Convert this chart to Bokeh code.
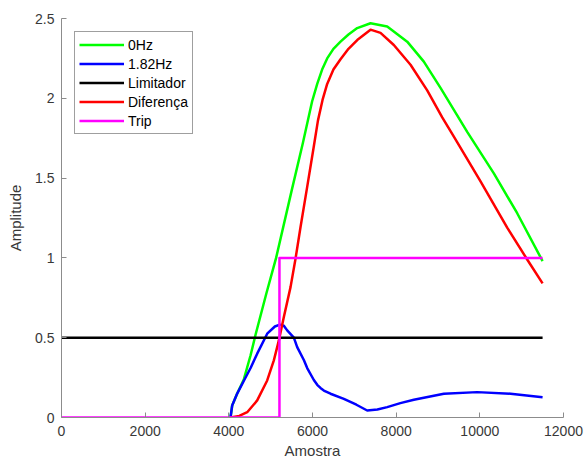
from bokeh.plotting import figure
from bokeh.models import Range1d, FixedTicker, Legend, LegendItem
from bokeh.embed import file_html
from bokeh.resources import INLINE

# ---- data ----
x_0hz = [4040, 4080, 4200, 4360, 4520, 4640, 4900, 5130, 5500, 5770, 5990, 6113, 6230, 6351, 6500,
         6670, 6860, 7069, 7387, 7786, 8264, 8661, 9060, 9419, 9698, 10335, 10893, 11500]
y_0hz = [0.0, 0.075, 0.15, 0.24, 0.39, 0.52, 0.78, 1.0, 1.42, 1.72, 1.98, 2.09, 2.18, 2.25, 2.31,
         2.355, 2.40, 2.44, 2.47, 2.45, 2.355, 2.23, 2.065, 1.91, 1.79, 1.53, 1.28, 0.98]

x_182 = [4040, 4080, 4200, 4360, 4520, 4678, 4917, 5100, 5220, 5315, 5395, 5554, 5634, 5793,
         5873, 6032, 6113, 6190, 6271, 6431, 6749, 7050, 7307, 7550, 7786, 8100, 8423, 9140, 9937,
         10734, 11500]
y_182 = [0.0, 0.075, 0.15, 0.23, 0.31, 0.40, 0.525, 0.57, 0.582, 0.575, 0.546, 0.50, 0.441, 0.36,
         0.31, 0.235, 0.205, 0.185, 0.169, 0.149, 0.117, 0.08, 0.044, 0.05, 0.065, 0.09, 0.111, 0.149,
         0.159, 0.149, 0.127]

x_lim = [0, 11500]
y_lim = [0.5, 0.5]

x_dif = [4040, 4250, 4439, 4678, 4917, 5076, 5196, 5315, 5475, 5594, 5714, 5873, 6032, 6130,
         6240, 6351, 6500, 6670, 6860, 7069, 7387, 7626, 7944, 8343, 8742, 9101, 9379, 10017, 10654,
         11132, 11500]
y_dif = [0.0, 0.01, 0.033, 0.107, 0.232, 0.358, 0.483, 0.629, 0.817, 0.995, 1.194, 1.445, 1.70, 1.86,
         1.99, 2.09, 2.18, 2.245, 2.31, 2.365, 2.43, 2.41, 2.334, 2.21, 2.05, 1.88, 1.76, 1.48, 1.19,
         0.99, 0.84]

x_trip = [0, 5210, 5210, 11500]
y_trip = [0, 0, 1, 1]

x_ticks = [0, 2000, 4000, 6000, 8000, 10000, 12000]
y_ticks = [0, 0.5, 1, 1.5, 2, 2.5]
y_tick_labels = ["0", "0.5", "1", "1.5", "2", "2.5"]

labels = ["0Hz", "1.82Hz", "Limitador", "Diferença", "Trip"]
colors = ["#00FF00", "#0000FF", "#000000", "#FF0000", "#FF00FF"]

FONT = "Liberation Sans"
TXT = "#383838"

p = figure(width=587, height=461, output_backend="svg", toolbar_location=None,
           x_range=Range1d(0, 12000), y_range=Range1d(0, 2.5),
           min_border_left=61, min_border_right=24, min_border_top=18, min_border_bottom=44)
p.outline_line_color = None
p.xgrid.visible = False
p.ygrid.visible = False

series = [(x_0hz, y_0hz), (x_182, y_182), (x_lim, y_lim), (x_dif, y_dif), (x_trip, y_trip)]
renderers = []
for (xs, ys), c in zip(series, colors):
    r = p.line(xs, ys, line_color=c, line_width=2.5, line_join="round")
    renderers.append(r)

for ax in (p.xaxis[0], p.yaxis[0]):
    ax.axis_line_color = "#8c8c8c"
    ax.major_tick_line_color = "#8c8c8c"
    ax.major_tick_in = 5
    ax.major_tick_out = 0
    ax.minor_tick_line_color = None
    ax.major_label_text_font = FONT
    ax.major_label_text_font_size = "14px"
    ax.major_label_text_color = TXT
    ax.axis_label_text_font = FONT
    ax.axis_label_text_font_size = "15px"
    ax.axis_label_text_font_style = "normal"
    ax.axis_label_text_color = TXT

p.xaxis.ticker = FixedTicker(ticks=x_ticks)
p.yaxis.ticker = FixedTicker(ticks=y_ticks)
p.yaxis.major_label_overrides = {t: l for t, l in zip(y_ticks, y_tick_labels)}
p.xaxis.axis_label = "Amostra"
p.yaxis.axis_label = "Amplitude"
p.xaxis.major_label_standoff = 8
p.xaxis.axis_label_standoff = 3
p.yaxis.major_label_standoff = 7
p.yaxis.axis_label_standoff = 8

legend = Legend(items=[LegendItem(label=l, renderers=[r]) for l, r in zip(labels, renderers)],
                location="top_left", margin=13, padding=4, spacing=2,
                glyph_width=45, glyph_height=17, label_height=17, label_standoff=4,
                label_text_font=FONT, label_text_font_size="14px", label_text_color="#000000",
                border_line_color="#404040", border_line_width=1,
                background_fill_color="white", background_fill_alpha=1)
p.add_layout(legend, "center")

open("out.html", "w").write(file_html(p, INLINE))
